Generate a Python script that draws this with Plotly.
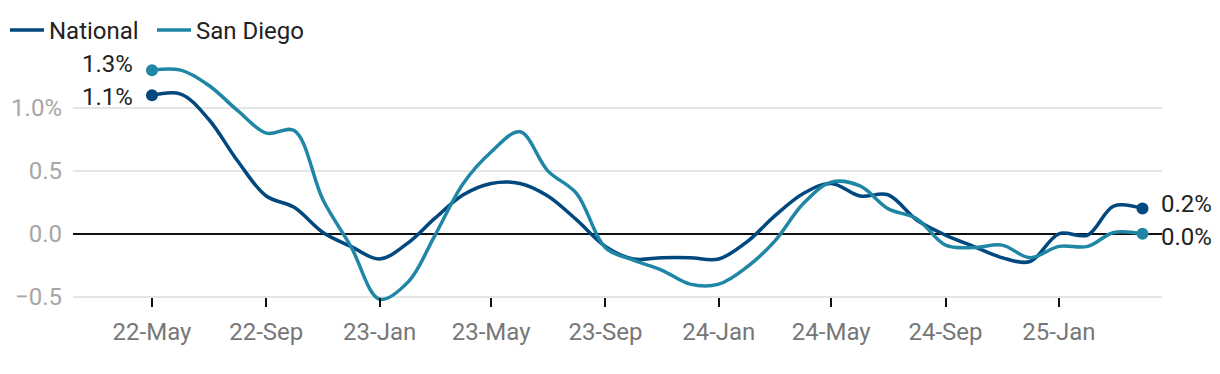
import plotly.graph_objects as go

months = ["2022-05-01", "2022-06-01", "2022-07-01", "2022-08-01", "2022-09-01", "2022-10-01",
          "2022-11-01", "2022-12-01", "2023-01-01", "2023-02-01", "2023-03-01", "2023-04-01",
          "2023-05-01", "2023-06-01", "2023-07-01", "2023-08-01", "2023-09-01", "2023-10-01",
          "2023-11-01", "2023-12-01", "2024-01-01", "2024-02-01", "2024-03-01", "2024-04-01",
          "2024-05-01", "2024-06-01", "2024-07-01", "2024-08-01", "2024-09-01", "2024-10-01",
          "2024-11-01", "2024-12-01", "2025-01-01", "2025-02-01", "2025-03-01", "2025-04-01"]

national = [1.10, 1.11, 0.91, 0.58, 0.30, 0.21, 0.01, -0.10, -0.20, -0.07, 0.12, 0.31,
            0.40, 0.40, 0.30, 0.11, -0.10, -0.20, -0.19, -0.19, -0.20, -0.06, 0.14, 0.32,
            0.40, 0.30, 0.31, 0.11, -0.01, -0.10, -0.19, -0.22, 0.00, -0.01, 0.22, 0.20]

san_diego = [1.30, 1.30, 1.18, 0.98, 0.80, 0.82, 0.27, -0.10, -0.52, -0.38, -0.02, 0.40,
             0.65, 0.81, 0.50, 0.32, -0.11, -0.21, -0.29, -0.40, -0.40, -0.26, -0.06, 0.24,
             0.41, 0.38, 0.20, 0.12, -0.09, -0.11, -0.09, -0.19, -0.10, -0.10, 0.01, 0.00]

series_names = ["National", "San Diego"]
colors = ["#00487e", "#1f87a5"]

y_tickvals = [-0.5, 0.0, 0.5, 1.0]
y_ticktext = ["\u22120.5", "0.0", "0.5", "1.0%"]
x_tickvals = ["2022-05-01", "2022-09-01", "2023-01-01", "2023-05-01", "2023-09-01",
              "2024-01-01", "2024-05-01", "2024-09-01", "2025-01-01"]

# styling (not data): end-label nudges and legend slots
label_yshift = {"National": (-2, 5), "San Diego": (6, -3)}
legend_ids = {"National": "legend", "San Diego": "legend2"}
legend_x_px = {"legend": 5, "legend2": 152}
legend_itemwidth = {"legend": 34, "legend2": 34}

FONT = "Roboto"
FS = 24
W, H = 1220, 374
Y_RANGE = [-0.55, 1.5]
AXIS_AT = -0.5  # value where the x axis (ticks) sits
fig = go.Figure()

for name, vals, col in zip(series_names, [national, san_diego], colors):
    fig.add_trace(go.Scatter(
        x=months, y=vals, name=name, mode="lines", legend=legend_ids[name],
        line=dict(color=col, width=3.5, shape="spline", smoothing=1.0),
        hoverinfo="skip"))

for name, vals, col in zip(series_names, [national, san_diego], colors):
    fig.add_trace(go.Scatter(
        x=[months[0], months[-1]], y=[vals[0], vals[-1]], mode="markers",
        marker=dict(color=col, size=12), showlegend=False, hoverinfo="skip"))
    ys0, ys1 = label_yshift[name]
    fig.add_annotation(x=months[0], y=vals[0], text=f"{vals[0]:.1f}%", showarrow=False,
                       xanchor="right", yanchor="middle", xshift=-17, yshift=ys0,
                       font=dict(family=FONT, size=FS, color="#222222"))
    fig.add_annotation(x=months[-1], y=vals[-1], text=f"{vals[-1]:.1f}%", showarrow=False,
                       xanchor="left", yanchor="middle", xshift=17, yshift=ys1,
                       font=dict(family=FONT, size=FS, color="#222222"))

def legend_style(lid):
    return dict(orientation="h", xref="container", yref="container",
                x=legend_x_px[lid] / W, xanchor="left", y=1 - 8 / H, yanchor="top",
                font=dict(family=FONT, size=FS, color="#222222"),
                itemwidth=legend_itemwidth[lid], bgcolor="rgba(0,0,0,0)", borderwidth=0)

fig.update_layout(
    template="none",
    width=W, height=H,
    margin=dict(l=73, r=58, t=45, b=71, pad=0, autoexpand=False),
    paper_bgcolor="white", plot_bgcolor="white",
    font=dict(family=FONT, size=FS, color="#222222"),
    legend=legend_style("legend"),
    legend2=legend_style("legend2"),
    xaxis=dict(type="date", range=["2022-02-05", "2025-04-22"], automargin=False,
               anchor="free",
               position=(AXIS_AT - Y_RANGE[0]) / (Y_RANGE[1] - Y_RANGE[0]),
               tickvals=x_tickvals, tickformat="%y-%b",
               ticks="outside", ticklen=9, tickwidth=2, tickcolor="#111111",
               showgrid=False, showline=False, zeroline=False,
               tickfont=dict(family=FONT, size=FS, color="#777777"),
               ticklabelstandoff=4),
    yaxis=dict(range=Y_RANGE, tickvals=y_tickvals, ticktext=y_ticktext, automargin=False,
               showgrid=True, gridcolor="#e5e5e5", gridwidth=1.5,
               zeroline=True, zerolinecolor="#111111", zerolinewidth=2,
               showline=False, ticks="",
               tickfont=dict(family=FONT, size=FS, color="#a6a6a6"),
               ticklabelstandoff=10),
)

fig.write_html("out.html", config={"displayModeBar": False},
               post_script="document.body.style.margin='0px';")
